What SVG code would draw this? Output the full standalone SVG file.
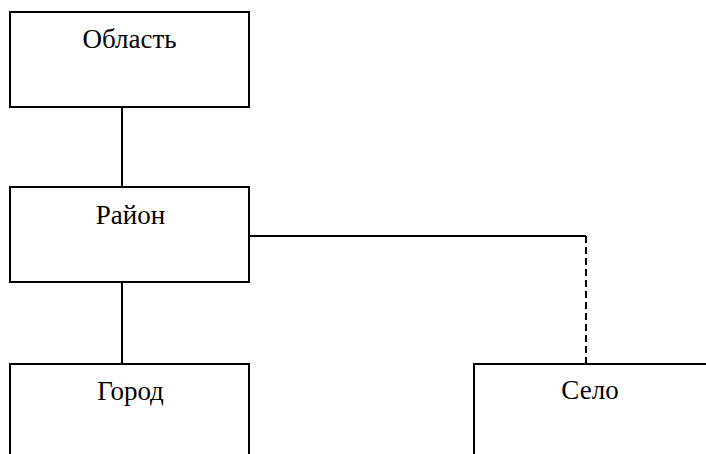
<svg xmlns="http://www.w3.org/2000/svg" width="706" height="454" viewBox="0 0 706 454">
<style>
.box{fill:#fff;stroke:#000;stroke-width:2}
.lbl{font-family:"Liberation Serif","Times New Roman",serif;font-size:27px;fill:#000;text-anchor:middle}
.ln{fill:none;stroke:#000;stroke-width:2}
.dash{stroke-dasharray:7,4}
</style>
<rect width="706" height="454" fill="#fff"/>
<g id="connectors">
<line class="ln" x1="122" y1="107" x2="122" y2="187"/>
<line class="ln" x1="122" y1="282" x2="122" y2="364"/>
<polyline class="ln" points="249,236 586,236"/>
<line class="ln dash" x1="586" y1="236" x2="586" y2="364"/>
</g>
<g id="oblast">
<rect class="box" x="10" y="12" width="239" height="95"/>
<text class="lbl" x="129.5" y="48">Область</text>
</g>
<g id="raion">
<rect class="box" x="10" y="187" width="239" height="95"/>
<text class="lbl" x="130.5" y="224">Район</text>
</g>
<g id="gorod">
<rect class="box" x="10" y="364" width="239" height="100"/>
<text class="lbl" x="130.5" y="400">Город</text>
</g>
<g id="selo">
<rect class="box" x="474" y="364" width="250" height="100"/>
<text class="lbl" x="590" y="399">Село</text>
</g>
</svg>
